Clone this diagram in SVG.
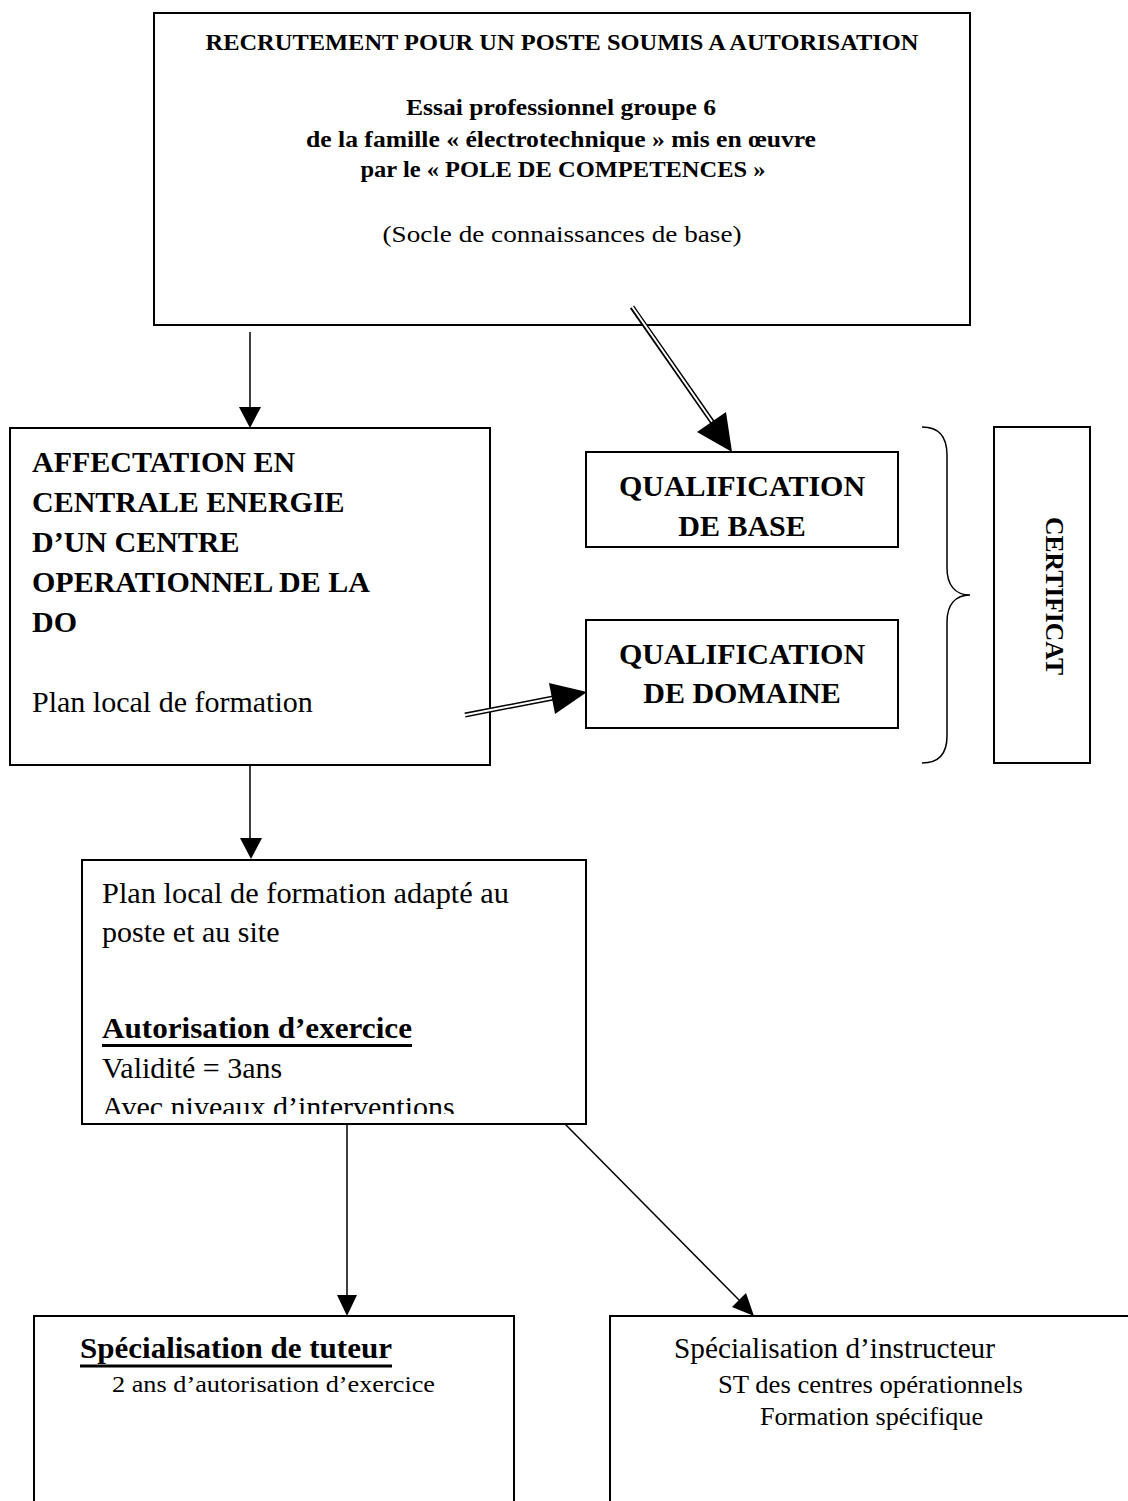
<svg xmlns="http://www.w3.org/2000/svg" width="1128" height="1501" viewBox="0 0 1128 1501">
<style>
.box{fill:none;stroke:#000;stroke-width:2}
.ln{fill:none;stroke:#000;stroke-width:1.5}
.hd{fill:#000;stroke:none}
.dbo{fill:none;stroke:#000;stroke-width:5}
.dbi{fill:none;stroke:#fff;stroke-width:2}
.t{font-family:"Liberation Serif","Times New Roman",serif;fill:#000}
.b{font-weight:bold}
.c{text-anchor:middle}
</style>
<defs>
<clipPath id="clipPlan"><rect x="82" y="860" width="504" height="254"/></clipPath>
</defs>
<rect width="1128" height="1501" fill="#fff"/>

<g id="recrutement">
<rect class="box" x="154" y="13" width="816" height="312"/>
<text class="t b c" x="562" y="50" font-size="24" textLength="713" lengthAdjust="spacingAndGlyphs">RECRUTEMENT POUR UN POSTE SOUMIS A AUTORISATION</text>
<text class="t b c" x="561" y="115" font-size="23" textLength="310" lengthAdjust="spacingAndGlyphs">Essai professionnel groupe 6</text>
<text class="t b c" x="561" y="147" font-size="23" textLength="510" lengthAdjust="spacingAndGlyphs">de la famille « électrotechnique » mis en œuvre</text>
<text class="t b c" x="563" y="177" font-size="23" textLength="405" lengthAdjust="spacingAndGlyphs">par le « POLE DE COMPETENCES »</text>
<text class="t c" x="562" y="242" font-size="23" textLength="359" lengthAdjust="spacingAndGlyphs">(Socle de connaissances de base)</text>
</g>

<g id="affectation">
<rect class="box" x="10" y="428" width="480" height="337"/>
<text class="t b" x="32" y="472" font-size="30">AFFECTATION EN</text>
<text class="t b" x="32" y="512" font-size="30">CENTRALE ENERGIE</text>
<text class="t b" x="32" y="552" font-size="30">D’UN CENTRE</text>
<text class="t b" x="32" y="592" font-size="30">OPERATIONNEL DE LA</text>
<text class="t b" x="32" y="632" font-size="30">DO</text>
<text class="t" x="32" y="712" font-size="30">Plan local de formation</text>
</g>

<g id="qualif-base">
<rect class="box" x="586" y="452" width="312" height="95"/>
<text class="t b c" x="742" y="496" font-size="30">QUALIFICATION</text>
<text class="t b c" x="742" y="536" font-size="30">DE BASE</text>
</g>

<g id="qualif-domaine">
<rect class="box" x="586" y="620" width="312" height="108"/>
<text class="t b c" x="742" y="664" font-size="30">QUALIFICATION</text>
<text class="t b c" x="742" y="703" font-size="30">DE DOMAINE</text>
</g>

<g id="accolade">
<path class="ln" d="M922,427 C940,427 947,438 947,455 L947,568 C947,585 955,595 970,595 C955,595 947,605 947,622 L947,736 C947,752 940,763 922,763"/>
</g>

<g id="certificat">
<rect class="box" x="994" y="427" width="96" height="336"/>
<text class="t b c" transform="translate(1046,596) rotate(90)" font-size="25" textLength="158" lengthAdjust="spacingAndGlyphs">CERTIFICAT</text>
</g>

<g id="plan-local">
<rect class="box" x="82" y="860" width="504" height="264"/>
<text class="t" x="102" y="903" font-size="30" textLength="407" lengthAdjust="spacingAndGlyphs">Plan local de formation  adapté au</text>
<text class="t" x="102" y="942" font-size="30">poste et au site</text>
<text class="t b" x="102" y="1038" font-size="30" textLength="310" lengthAdjust="spacingAndGlyphs">Autorisation d’exercice</text>
<line x1="102" y1="1045.5" x2="412" y2="1045.5" stroke="#000" stroke-width="3"/>
<text class="t" x="102" y="1078" font-size="30">Validité = 3ans</text>
<text class="t" x="102" y="1117" font-size="30" clip-path="url(#clipPlan)">Avec niveaux d’interventions</text>
</g>

<g id="tuteur">
<path class="box" d="M34,1510 L34,1316 L514,1316 L514,1510"/>
<text class="t b" x="80" y="1358" font-size="30" textLength="312" lengthAdjust="spacingAndGlyphs">Spécialisation de tuteur</text>
<line x1="80" y1="1366" x2="392" y2="1366" stroke="#000" stroke-width="3"/>
<text class="t" x="112" y="1392" font-size="24" textLength="323" lengthAdjust="spacingAndGlyphs">2 ans d’autorisation d’exercice</text>
</g>

<g id="instructeur">
<path class="box" d="M610,1510 L610,1316 L1140,1316"/>
<text class="t" x="674" y="1358" font-size="29" textLength="321" lengthAdjust="spacingAndGlyphs">Spécialisation d’instructeur</text>
<text class="t" x="718" y="1393" font-size="25" textLength="305" lengthAdjust="spacingAndGlyphs">ST des centres opérationnels</text>
<text class="t" x="760" y="1425" font-size="25" textLength="223" lengthAdjust="spacingAndGlyphs">Formation spécifique</text>
</g>

<g id="connectors">
<line class="ln" x1="250" y1="332" x2="250" y2="408"/>
<polygon class="hd" points="250,428 239,407 261,407"/>

<path class="dbo" d="M632,307 L713,423"/>
<path class="dbi" d="M631,305 L713,423"/>
<polygon class="hd" points="732,452 697,432 726,412"/>

<path class="dbo" d="M465,715 L553,698"/>
<path class="dbi" d="M463,715.4 L553,698"/>
<polygon class="hd" points="587,692 549,683 555,714"/>

<line class="ln" x1="250" y1="765" x2="250" y2="840"/>
<polygon class="hd" points="251,859 240,838 262,838"/>

<line class="ln" x1="347" y1="1124" x2="347" y2="1297"/>
<polygon class="hd" points="347,1316 337,1295 357,1295"/>

<line class="ln" x1="565" y1="1124" x2="740" y2="1301"/>
<polygon class="hd" points="754,1316 732,1307 746,1293"/>
</g>
</svg>
